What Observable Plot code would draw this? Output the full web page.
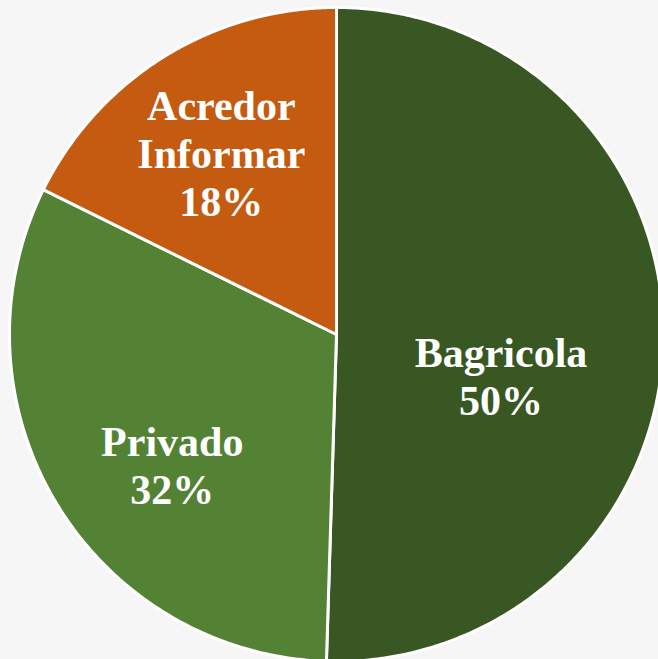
<!DOCTYPE html>
<html>
<head>
<meta charset="utf-8">
<script src="https://cdn.jsdelivr.net/npm/d3@7"></script>
<script src="https://cdn.jsdelivr.net/npm/@observablehq/plot@0.6"></script>
<style>
  html, body { margin: 0; padding: 0; background: #f6f6f6; overflow: hidden; }
</style>
</head>
<body>
<div id="chart"></div>
<script>
// ---- data ----
const categories = ["Bagricola", "Privado", "Acredor Informar"];
const values = [50.49, 31.81, 17.7];
const palette = ["#385723", "#548235", "#C55A11"];

// ---- layout ----
const W = 658, H = 659;
const cx = 336, cy = 334, R = 327;
// per-slice label nudge in pixels (Excel best-fit placement)
const nudge = {"Bagricola": [-48, 38], "Privado": [18, 21], "Acredor Informar": [-3, -1]};

const total = d3.sum(values);
const arcs = d3.pie().sort(null).value(d => d)(values);

// slice outlines (polygons in unit-circle data coordinates)
const outline = [];
arcs.forEach((a, i) => {
  const name = categories[i];
  outline.push({name, x: 0, y: 0});
  const n = Math.max(2, Math.ceil((a.endAngle - a.startAngle) / (Math.PI / 360)));
  for (let k = 0; k <= n; k++) {
    const t = a.startAngle + (a.endAngle - a.startAngle) * k / n;
    outline.push({name, x: Math.sin(t), y: Math.cos(t)});
  }
});

// labels
const labels = arcs.map((a, i) => {
  const name = categories[i];
  const mid = (a.startAngle + a.endAngle) / 2;
  const r = 0.65;
  const [ndx, ndy] = nudge[name];
  return {
    name,
    x: r * Math.sin(mid) + ndx / R,
    y: r * Math.cos(mid) - ndy / R,
    text: name.replace(" ", "\n") + "\n" + Math.round(values[i] / total * 100) + "%"
  };
});

const chart = Plot.plot({
  width: W,
  height: H,
  margin: 0,
  style: {background: "#f6f6f6", overflow: "hidden"},
  x: {domain: [-1, 1], range: [cx - R, cx + R], axis: null},
  y: {domain: [-1, 1], range: [cy + R, cy - R], axis: null},
  color: {domain: categories, range: palette},
  marks: [
    Plot.line(outline, {
      x: "x", y: "y", z: "name", fill: "name",
      stroke: "white", strokeWidth: 3, strokeLinejoin: "round",
      curve: "linear-closed"
    }),
    Plot.text(labels, {
      x: "x", y: "y", text: "text",
      fill: "white", fontSize: 42, fontWeight: "bold",
      fontFamily: "'Liberation Serif', 'Times New Roman', serif",
      lineHeight: 1.14
    })
  ]
});

document.getElementById("chart").appendChild(chart);
</script>
</body>
</html>
